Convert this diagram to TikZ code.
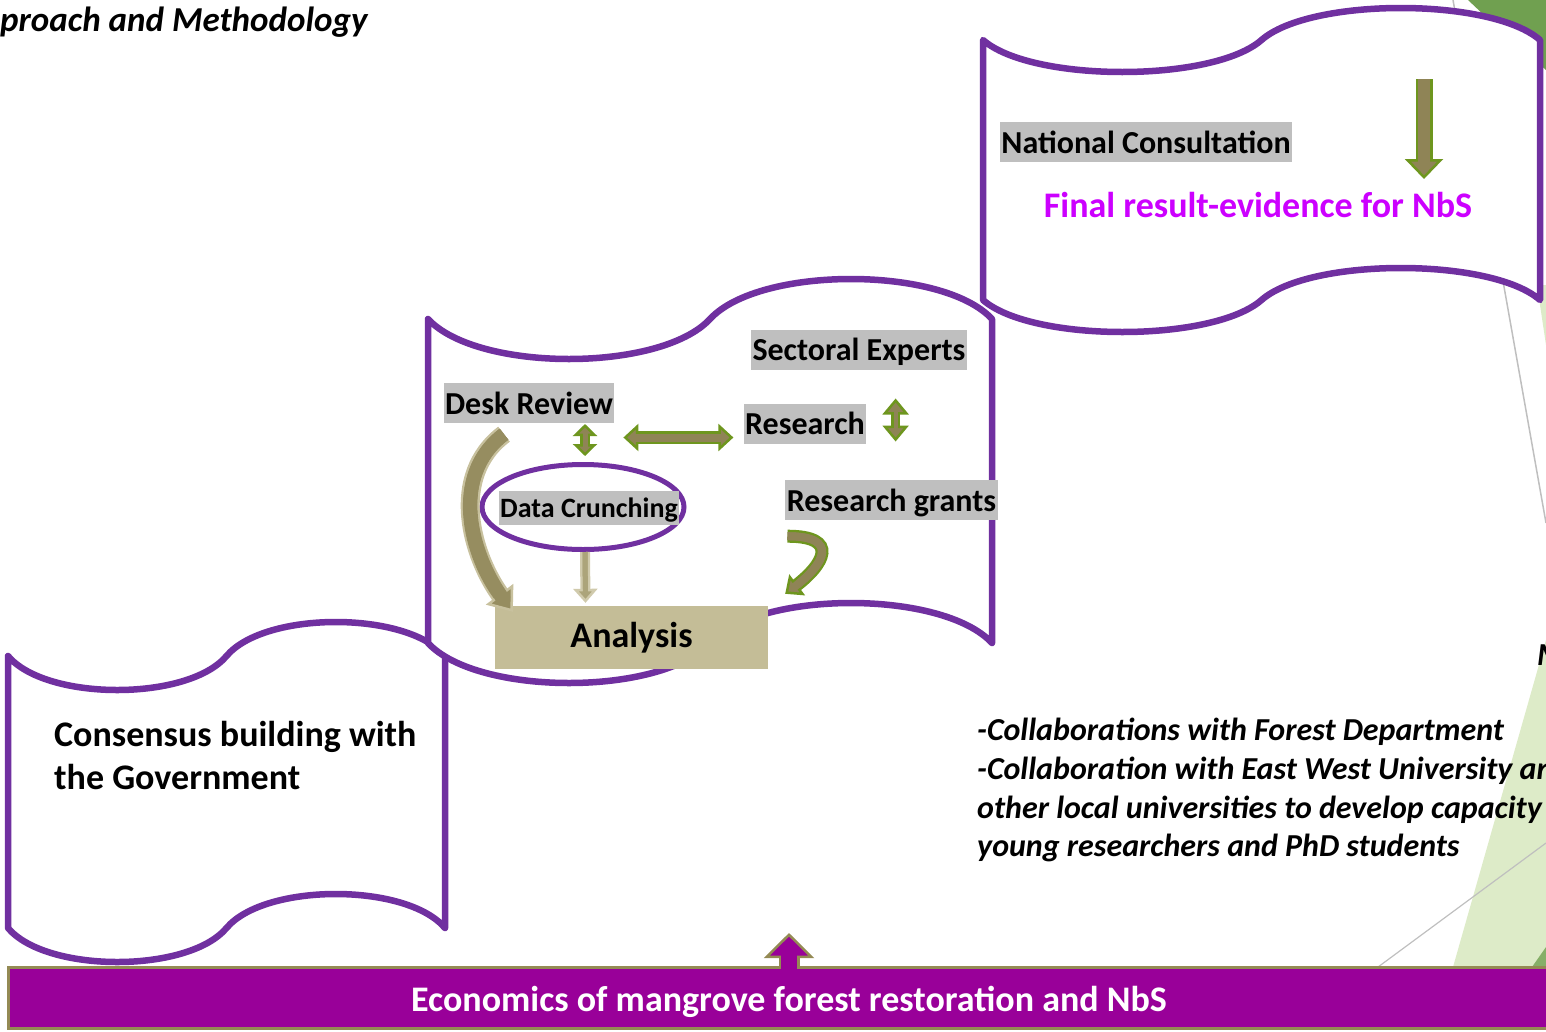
\documentclass[tikz,border=0pt]{standalone}
\usepackage{fontspec}
\setmainfont{Carlito}
\usetikzlibrary{positioning, calc, arrows.meta, shapes.geometric}
\definecolor{scrollline}{RGB}{112,48,160}
\definecolor{barfill}{RGB}{153,0,153}
\definecolor{barline}{RGB}{148,138,84}
\definecolor{hlgray}{RGB}{191,191,191}
\definecolor{tanbox}{RGB}{196,189,151}
\definecolor{olivefill}{RGB}{143,132,86}
\definecolor{leafgreen}{RGB}{110,150,30}
\definecolor{deskbrown}{RGB}{150,141,96}
\definecolor{desklight}{RGB}{200,193,158}
\definecolor{crunchtan}{RGB}{172,164,122}
\definecolor{crunchlight}{RGB}{208,202,172}
\definecolor{resultpink}{RGB}{204,0,255}
\definecolor{deepgreen}{RGB}{112,160,80}
\definecolor{palegreen}{RGB}{221,235,200}
\definecolor{rulegray}{RGB}{191,191,191}

\begin{document}
\begin{tikzpicture}[x=1pt, y=1pt, yscale=-1,
    banner/.style={draw=scrollline, line width=6.5pt, fill=white, line join=round, line cap=round},
    tag/.style={fill=hlgray, font=\bfseries\fontsize{32}{38}\selectfont, inner xsep=1.5pt, inner ysep=4pt, text height=27pt, text depth=5pt},
    blockarrow/.style n args={5}{draw=#4, line width=#1,
        -{Triangle[length=#2, width=#3, fill=#4, color=#5, line width=2.5pt 0 1]},
        preaction={draw=#5, line width=#1+5pt, -, shorten >=#2*0.75},
        postaction={draw=#4, -, shorten >=#2*0.6}},
    dblockarrow/.style n args={5}{draw=#4, line width=#1,
        {Triangle[length=#2, width=#3, fill=#4, color=#5, line width=2.5pt 0 1]}-{Triangle[length=#2, width=#3, fill=#4, color=#5, line width=2.5pt 0 1]},
        preaction={draw=#5, line width=#1+5pt, -, shorten >=#2*0.75, shorten <=#2*0.75},
        postaction={draw=#4, -, shorten >=#2*0.6, shorten <=#2*0.6}}
]
    \useasboundingbox (0,0) rectangle (1546,1031);
    \clip (0,0) rectangle (1546,1031);

    % background decoration on the right
    \fill[deepgreen] (1468,0) -- (1546,0) -- (1546,70) -- (1505,35) -- cycle;
    \fill[palegreen] (1537,285) -- (1546,285) -- (1546,345) -- cycle;
    \fill[palegreen] (1546,640) -- (1453,967) -- (1546,967) -- cycle;
    \fill[deepgreen!80!palegreen] (1532,967) -- (1546,947) -- (1546,967) -- cycle;
    \draw[rulegray, line width=1.5pt] (1453,0) -- (1546,523);
    \draw[rulegray, line width=1.2pt] (1378,967) -- (1546,843);

    % the three scrolls
    \foreach \xl/\xr/\ytop/\ybot/\amp in {8/445/656/928/34, 428/992/319/643/40, 983/1540/40/300/32} {
        \pgfmathsetmacro\hx{0.35*(\xr-\xl)/4}
        \pgfmathsetmacro\hy{4*\amp/3}
        \pgfmathsetmacro\xm{(\xl+\xr)/2}
        \draw[banner] (\xl,\ytop) .. controls +(\hx,\hy) and +(-\hx,\hy) .. (\xm,\ytop)
            .. controls +(\hx,-\hy) and +(-\hx,-\hy) .. (\xr,\ytop)
            -- (\xr,\ybot) .. controls +(-\hx,-\hy) and +(\hx,-\hy) .. (\xm,\ybot)
            .. controls +(-\hx,\hy) and +(\hx,\hy) .. (\xl,\ybot) -- cycle;
    }

    % base bar
    \node[draw=barline, fill=barfill, line width=3pt, minimum width=1562pt, minimum height=61pt, inner sep=0, text=white, font=\bfseries\fontsize{36}{43}\selectfont, text height=30pt, text depth=3pt] (bar) at (789,997.5) {Economics of mangrove forest restoration and NbS};
    \draw[blockarrow={16pt}{25pt}{50pt}{barfill}{barline}] ($(bar.north)+(0,3)$) -- ($(bar.north)+(0,-32.5)$);

    % labels
    \node[font=\bfseries\itshape\fontsize{35}{42}\selectfont, anchor=base west, inner sep=0] (title) at (0,31) {proach and Methodology};
    \node[font=\bfseries\fontsize{36}{43}\selectfont, align=left, anchor=north west, inner sep=0] (consensus) at (54,721) {Consensus building with\\the Government};
    \node[tag] (natcons) at (1146,142) {National Consultation};
    \node[font=\bfseries\fontsize{36}{43}\selectfont, text=resultpink] (final) at (1258,205) {Final result-evidence for NbS};
    \node[tag] (experts) at (859,349.5) {Sectoral Experts};
    \node[tag] (desk) at (529,403) {Desk Review};
    \node[tag] (research) at (805,423.5) {Research};
    \node[tag] (grants) at (891.5,500) {Research grants};
    \node[fill=tanbox, minimum width=273pt, minimum height=63pt, font=\bfseries\fontsize{36}{43}\selectfont] (analysis) at (631.5,637.5) {Analysis};
    \node[ellipse, draw=scrollline, line width=5pt, fill=white, minimum width=202pt, minimum height=85pt] (ring) at (583,507) {};
    \node[tag, font=\bfseries\fontsize{28}{33}\selectfont, text height=23pt, text depth=5pt, inner ysep=3pt] (crunch) at (589,508) {Data Crunching};
    \node[font=\bfseries\itshape\fontsize{32}{38.7}\selectfont, align=left, anchor=north west, inner sep=0] (collab) at (977,718) {-Collaborations with Forest Department\\-Collaboration with East West University an\\other local universities to develop capacity\\young researchers and PhD students};
    \node[font=\bfseries\itshape\fontsize{32}{38}\selectfont, anchor=west, inner sep=0] (mcut) at (1537,655) {M};

    % block arrows
    \coordinate (droptop) at (1424,79);
    \coordinate (dropend) at (1424,179);
    \draw[blockarrow={12pt}{20pt}{38pt}{olivefill}{leafgreen}] (droptop) -- (dropend);
    \draw[dblockarrow={5pt}{12pt}{24pt}{olivefill}{leafgreen}] ($(ring.north)+(2,-6)$) -- ($(ring.north)+(2,-38)$);
    \draw[dblockarrow={8pt}{15pt}{27pt}{olivefill}{leafgreen}] ($(research.west)+(-120,14)$) -- ($(research.west)+(-10,14)$);
    \draw[dblockarrow={4pt}{16pt}{26pt}{olivefill}{leafgreen}] ($(research.east)+(29,-25)$) -- ($(research.east)+(29,18)$);
    \draw[blockarrow={5pt}{14pt}{24pt}{crunchtan}{crunchlight}] ($(ring.south)+(2,0)$) -- ($(analysis.north)+(-46,-3)$);
    \draw[blockarrow={14pt}{22pt}{34pt}{deskbrown}{desklight}] ($(desk.south)+(-25,11)$) to[out=143, in=233] ($(analysis.north west)+(18,6)$);
    \draw[blockarrow={8pt}{15pt}{26pt}{olivefill}{leafgreen}] ($(grants.south)+(-104,16)$) .. controls +(52,0) and +(40,-30) .. ($(analysis.north east)+(17,-12)$);
\end{tikzpicture}
\end{document}
